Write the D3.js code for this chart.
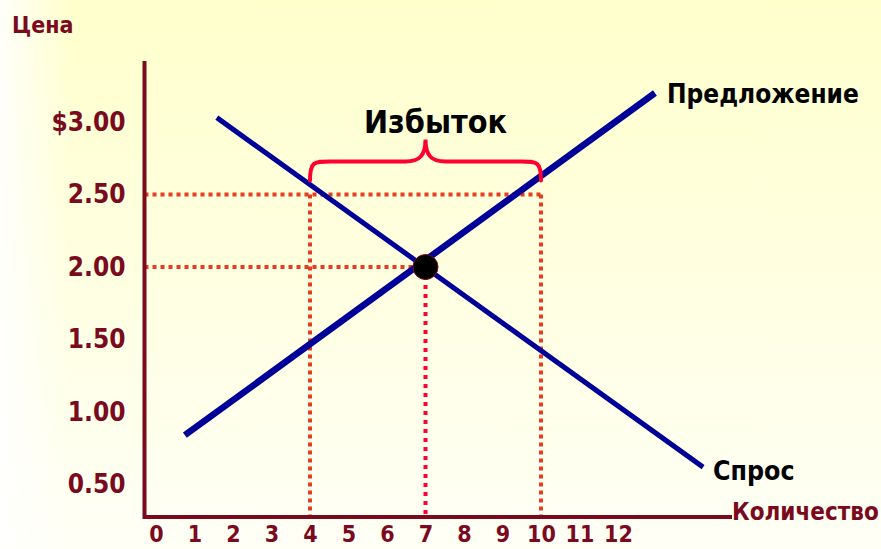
<!DOCTYPE html>
<html>
<head>
<meta charset="utf-8">
<script src="https://cdn.jsdelivr.net/npm/d3@7"></script>
<style>
  html, body { margin: 0; padding: 0; }
  svg { display: block; }
  text { font-family: "DejaVu Sans Condensed", "DejaVu Sans", Verdana, sans-serif; font-stretch: condensed; font-weight: bold; }
</style>
</head>
<body>
<svg id="chart" width="881" height="549"></svg>
<script>
// ---- data ----
const xTicks = [0, 1, 2, 3, 4, 5, 6, 7, 8, 9, 10, 11, 12];
const yTicks = [0.5, 1.0, 1.5, 2.0, 2.5, 3.0];
const yTickLabels = ["0.50", "1.00", "1.50", "2.00", "2.50", "$3.00"];
// supply and demand line end points [quantity, price]
const supply = [[0.75, 0.84], [12.96, 3.20]];
const demand = [[1.58, 3.03], [14.21, 0.62]];
// equilibrium
const equilibrium = [7, 2.0];
// surplus at price 2.50: quantity demanded 4, quantity supplied 10
const surplusPrice = 2.5;
const surplusQd = 4;
const surplusQs = 10;
const labels = { x: "Количество", y: "Цена", supply: "Предложение", demand: "Спрос", surplus: "Избыток" };

// ---- layout ----
const W = 881, H = 549;
const frame = { left: 144.5, top: 61, bottom: 517, right: 732 };
const svg = d3.select("#chart");

const x = d3.scaleLinear().domain([0, 12]).range([156, 618]);
const y = d3.scaleLinear().domain([0.5, 3.0]).range([484.5, 122]);

// background
const defs = svg.append("defs");
const gv = defs.append("linearGradient").attr("id", "bgv").attr("x1", 0).attr("y1", 0).attr("x2", 0).attr("y2", 1);
gv.append("stop").attr("offset", "0%").attr("stop-color", "#FFFFCC");
gv.append("stop").attr("offset", "100%").attr("stop-color", "#FFFFF6");
const gh = defs.append("linearGradient").attr("id", "bgh").attr("x1", 0).attr("y1", 0).attr("x2", 1).attr("y2", 0);
gh.append("stop").attr("offset", "0%").attr("stop-color", "#FFFFFF").attr("stop-opacity", 0.9);
gh.append("stop").attr("offset", "8%").attr("stop-color", "#FFFFFF").attr("stop-opacity", 0);
svg.append("rect").attr("width", W).attr("height", H).attr("fill", "url(#bgv)");
svg.append("rect").attr("width", W).attr("height", H).attr("fill", "url(#bgh)");

const darkRed = "#7A0A1E";
const blue = "#000099";
const dashRed = "#E63C22";
const pinkRed = "#FF0033";

// dotted guide lines
const guides = svg.append("g").attr("fill", "none").attr("stroke-width", 4).attr("stroke-dasharray", "4,4");
guides.append("line").attr("x1", frame.left).attr("x2", x(surplusQs)).attr("y1", y(surplusPrice)).attr("y2", y(surplusPrice)).attr("stroke", dashRed);
guides.append("line").attr("x1", x(surplusQd)).attr("x2", x(surplusQd)).attr("y1", y(surplusPrice)).attr("y2", frame.bottom).attr("stroke", dashRed);
guides.append("line").attr("x1", x(surplusQs)).attr("x2", x(surplusQs)).attr("y1", y(surplusPrice)).attr("y2", frame.bottom).attr("stroke", dashRed);
guides.append("line").attr("x1", frame.left).attr("x2", x(equilibrium[0])).attr("y1", y(equilibrium[1])).attr("y2", y(equilibrium[1])).attr("stroke", dashRed);
guides.append("line").attr("x1", x(equilibrium[0])).attr("x2", x(equilibrium[0])).attr("y1", y(equilibrium[1])).attr("y2", frame.bottom).attr("stroke", pinkRed).attr("stroke-dasharray", "4,5");

// axes frame
svg.append("line").attr("x1", frame.left).attr("x2", frame.left).attr("y1", frame.top).attr("y2", frame.bottom + 2).attr("stroke", darkRed).attr("stroke-width", 4);
svg.append("line").attr("x1", frame.left).attr("x2", frame.right).attr("y1", frame.bottom).attr("y2", frame.bottom).attr("stroke", darkRed).attr("stroke-width", 4);

// tick labels
const xAxis = svg.append("g").attr("transform", `translate(0,${frame.bottom})`)
  .call(d3.axisBottom(x).tickValues(xTicks).tickSize(0).tickPadding(9).tickFormat(d3.format("d")));
xAxis.select(".domain").remove();
xAxis.selectAll("text").attr("fill", darkRed).style("font-size", "23px");

const yAxis = svg.append("g").attr("transform", `translate(${frame.left},0)`)
  .call(d3.axisLeft(y).tickValues(yTicks).tickSize(0).tickPadding(19).tickFormat((d, i) => yTickLabels[i]));
yAxis.select(".domain").remove();
yAxis.selectAll("text").attr("fill", darkRed).style("font-size", "26px");

// curves
const line = d3.line().x(d => x(d[0])).y(d => y(d[1]));
svg.append("path").datum(demand).attr("d", line).attr("stroke", blue).attr("stroke-width", 5).attr("fill", "none");
svg.append("path").datum(supply).attr("d", line).attr("stroke", blue).attr("stroke-width", 6.5).attr("fill", "none");

// equilibrium point
svg.append("circle").attr("cx", x(equilibrium[0])).attr("cy", y(equilibrium[1])).attr("r", 12.5)
  .attr("fill", "#000").attr("stroke", darkRed).attr("stroke-width", 1);

// brace over surplus
const bx0 = x(surplusQd), bx1 = x(surplusQs), bm = (bx0 + bx1) / 2;
const byBase = y(surplusPrice) - 14, byMid = byBase - 19, byTip = byBase - 41;
const p = d3.path();
p.moveTo(bx0, byBase);
p.bezierCurveTo(bx0, byMid, bx0 + 4, byMid, bx0 + 20, byMid);
p.lineTo(bm - 20, byMid);
p.bezierCurveTo(bm - 6, byMid, bm, byMid - 6, bm, byTip);
p.bezierCurveTo(bm, byMid - 6, bm + 6, byMid, bm + 20, byMid);
p.lineTo(bx1 - 20, byMid);
p.bezierCurveTo(bx1 - 4, byMid, bx1, byMid, bx1, byBase);
svg.append("path").attr("d", p.toString()).attr("fill", "none").attr("stroke", pinkRed).attr("stroke-width", 4).attr("stroke-linecap", "round");

// text labels
svg.append("text").attr("x", bm + 10).attr("y", byTip - 7).attr("text-anchor", "middle").style("font-size", "32px").attr("fill", "#000").text(labels.surplus);
svg.append("text").attr("x", 667).attr("y", 103).style("font-size", "26px").attr("fill", "#000").text(labels.supply);
svg.append("text").attr("x", 713).attr("y", 480).style("font-size", "26.5px").attr("fill", "#000").text(labels.demand);
svg.append("text").attr("x", 732).attr("y", 520).style("font-size", "24px").attr("fill", darkRed).text(labels.x);
svg.append("text").attr("x", 12).attr("y", 33).style("font-size", "23px").attr("fill", darkRed).text(labels.y);
</script>
</body>
</html>
